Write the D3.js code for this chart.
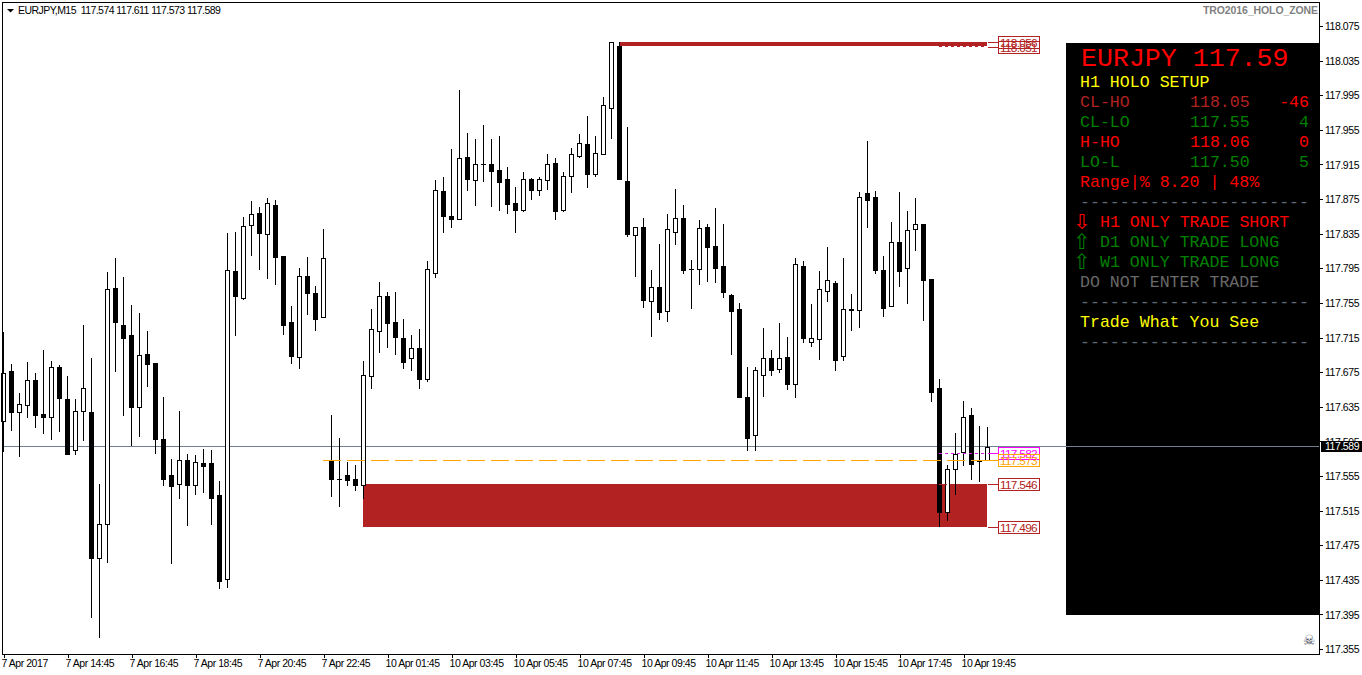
<!DOCTYPE html>
<html><head><meta charset="utf-8">
<script src="https://cdn.jsdelivr.net/npm/d3@7/dist/d3.min.js"></script>
<style>
html,body{margin:0;padding:0;background:#fff;overflow:hidden}
svg{display:block}
.ax{font-family:"Liberation Sans";font-size:10.5px;letter-spacing:-0.45px;fill:#000}
.mono{font-family:"Liberation Mono";font-size:16.6px}
</style></head><body>
<svg id="c" width="1362" height="675"></svg>
<script>
const opens=[117.619,117.676,117.629,117.637,117.666,117.627,117.623,117.681,117.644,117.585,
117.630,117.629,117.460,117.500,117.772,117.730,117.718,117.635,117.696,117.685,
117.598,117.556,117.546,117.573,117.544,117.570,117.570,117.533,117.436,117.792,
117.761,117.845,117.859,117.835,117.868,117.809,117.733,117.693,117.786,117.766,
117.739,117.572,117.552,117.556,117.551,117.544,117.670,117.723,117.763,117.733,
117.714,117.691,117.703,117.667,117.790,117.884,117.855,117.852,117.924,117.897,
117.916,117.916,117.909,117.898,117.871,117.862,117.898,117.885,117.897,117.917,
117.862,117.902,117.925,117.939,117.904,117.927,117.980,118.052,117.896,117.833,
117.843,117.757,117.773,117.746,117.837,117.853,117.794,117.794,117.843,117.821,
117.798,117.764,117.748,117.646,117.602,117.672,117.691,117.679,117.693,117.661,
117.798,117.710,117.713,117.769,117.778,117.694,117.748,117.747,117.882,117.877,
117.793,117.751,117.825,117.795,117.840,117.846,117.783,117.657,117.513,117.563,
117.583,117.625,117.572,117.574];
const highs=[117.721,117.684,117.651,117.687,117.674,117.700,117.688,117.683,117.670,117.644,
117.729,117.691,117.546,117.791,117.807,117.785,117.752,117.743,117.722,117.686,
117.646,117.575,117.630,117.580,117.579,117.586,117.585,117.549,117.836,117.837,
117.854,117.873,117.866,117.876,117.874,117.809,117.751,117.795,117.808,117.775,
117.840,117.626,117.599,117.571,117.568,117.688,117.748,117.779,117.768,117.768,
117.736,117.718,117.725,117.803,117.897,117.901,117.933,118.001,117.951,117.944,
117.961,117.944,117.948,117.912,117.889,117.906,117.899,117.901,117.927,117.922,
117.906,117.934,117.950,117.971,117.948,117.993,118.057,118.057,117.958,117.843,
117.853,117.793,117.823,117.858,117.887,117.868,117.804,117.851,117.846,117.865,
117.846,117.765,117.755,117.681,117.681,117.726,117.700,117.732,117.716,117.807,
117.803,117.754,117.792,117.820,117.780,117.807,117.765,117.883,117.942,117.884,
117.809,117.848,117.883,117.861,117.876,117.846,117.783,117.667,117.568,117.605,
117.642,117.633,117.613,117.611];
const lows=[117.584,117.608,117.578,117.623,117.612,117.605,117.598,117.607,117.580,117.580,
117.597,117.392,117.369,117.456,117.676,117.625,117.591,117.601,117.659,117.582,
117.544,117.454,117.530,117.498,117.534,117.537,117.499,117.425,117.427,117.718,
117.760,117.810,117.794,117.784,117.777,117.719,117.685,117.680,117.742,117.724,
117.739,117.532,117.520,117.544,117.539,117.530,117.657,117.698,117.704,117.696,
117.680,117.677,117.657,117.665,117.785,117.837,117.843,117.852,117.885,117.868,
117.896,117.867,117.862,117.859,117.837,117.861,117.875,117.880,117.887,117.852,
117.861,117.883,117.924,117.889,117.902,117.927,117.946,117.898,117.832,117.786,
117.750,117.717,117.736,117.734,117.823,117.790,117.749,117.777,117.780,117.779,
117.762,117.696,117.646,117.585,117.585,117.647,117.672,117.675,117.655,117.646,
117.710,117.705,117.690,117.757,117.677,117.689,117.724,117.727,117.843,117.790,
117.740,117.751,117.775,117.755,117.816,117.735,117.642,117.496,117.504,117.534,
117.568,117.551,117.549,117.573];
const closes=[117.674,117.629,117.638,117.666,117.626,117.623,117.681,117.645,117.580,117.630,
117.657,117.460,117.499,117.771,117.733,117.714,117.635,117.695,117.684,117.598,
117.552,117.543,117.573,117.544,117.571,117.566,117.530,117.434,117.793,117.763,
117.844,117.858,117.836,117.871,117.808,117.730,117.694,117.786,117.766,117.736,
117.807,117.551,117.551,117.550,117.544,117.672,117.725,117.763,117.732,117.716,
117.687,117.703,117.667,117.794,117.885,117.855,117.852,117.922,117.898,117.915,
117.916,117.907,117.895,117.869,117.862,117.898,117.885,117.898,117.916,117.861,
117.902,117.927,117.940,117.904,117.928,117.984,118.057,117.898,117.835,117.843,
117.758,117.773,117.745,117.840,117.853,117.793,117.794,117.842,117.820,117.795,
117.768,117.746,117.646,117.599,117.677,117.691,117.677,117.691,117.661,117.800,
117.714,117.714,117.771,117.781,117.689,117.748,117.747,117.877,117.874,117.793,
117.749,117.825,117.792,117.839,117.846,117.781,117.652,117.513,117.563,117.580,
117.623,117.569,117.572,117.589];

const timeLabels=["7 Apr 2017","7 Apr 14:45","7 Apr 16:45","7 Apr 18:45","7 Apr 20:45","7 Apr 22:45",
"10 Apr 01:45","10 Apr 03:45","10 Apr 05:45","10 Apr 07:45","10 Apr 09:45","10 Apr 11:45","10 Apr 13:45",
"10 Apr 15:45","10 Apr 17:45","10 Apr 19:45"];
const priceTicks=[118.075,118.035,117.995,117.955,117.915,117.875,117.835,117.795,117.755,117.715,
117.675,117.635,117.595,117.555,117.515,117.475,117.435,117.395,117.355];
const lastPrice=117.589;
const headerText="EURJPY,M15  117.574 117.611 117.573 117.589";
const indicatorName="TRO2016_HOLO_ZONE";

// zones: [first bar index, last bar index, top price, bottom price]
const upperZone=[77,123,118.056,118.051];
const lowerZone=[45,123,117.546,117.496];
const markers=[
 {price:118.056,label:"118.056",color:"#b22222"},
 {price:118.051,label:"118.051",color:"#b22222"},
 {price:117.546,label:"117.546",color:"#b22222"},
 {price:117.496,label:"117.496",color:"#b22222"},
 {price:117.582,label:"117.582",color:"#ff00ff"},
 {price:117.573,label:"117.573",color:"#ffa500"}
];
const panelTitle="EURJPY 117.59";
const panelRows=[
 {t:"H1 HOLO SETUP",c:"#ffff00"},
 {t:"CL-HO",v:"118.05",n:"-46",c:"#b22222",nc:"#ff0000"},
 {t:"CL-LO",v:"117.55",n:"4",c:"#008000"},
 {t:"H-HO",v:"118.06",n:"0",c:"#ff0000"},
 {t:"LO-L",v:"117.50",n:"5",c:"#008000"},
 {t:"Range|% 8.20 | 48%",c:"#ff0000"},
 {t:"-----------------------",c:"#5f6b78"},
 {t:"H1 ONLY TRADE SHORT",c:"#ff0000",a:"\u21e9"},
 {t:"D1 ONLY TRADE LONG",c:"#008000",a:"\u21e7"},
 {t:"W1 ONLY TRADE LONG",c:"#008000",a:"\u21e7"},
 {t:"DO NOT ENTER TRADE",c:"#696969"},
 {t:"-----------------------",c:"#5f6b78"},
 {t:"Trade What You See",c:"#ffff00"},
 {t:"-----------------------",c:"#5f6b78"}
];

const svg=d3.select("#c");
const x=d3.scaleLinear().domain([0,123]).range([3,987]);
const y=d3.scaleLinear().domain([118.075,117.355]).range([26,649]);
const Y=p=>Math.round(y(p));
const frame={l:2,t:2,r:1319,b:654};
svg.append("rect").attr("width",1362).attr("height",675).attr("fill","#fff");

// panel
const PX=1066;
svg.append("rect").attr("x",PX).attr("y",43).attr("width",frame.r-PX).attr("height",572).attr("fill","#000");
const gp=svg.append("g");
gp.append("text").attr("x",1081).attr("y",66).attr("fill","#ff0000")
 .style("font-family","Liberation Mono").style("font-size","26.6px").text(panelTitle);
panelRows.forEach((r,i)=>{
 const yy=87+i*20;
 gp.append("text").attr("class","mono").attr("x",r.a?1100:1080).attr("y",yy).attr("fill",r.c).text(r.t);
 if(r.a) gp.append("text").attr("x",1082).attr("y",yy+2).attr("text-anchor","middle").attr("fill",r.c)
   .style("font-family","DejaVu Sans").style("font-size","21px").text(r.a);
 if(r.v) gp.append("text").attr("class","mono").attr("x",1190).attr("y",yy).attr("fill",r.c).text(r.v);
 if(r.n) gp.append("text").attr("class","mono").attr("x",1309).attr("y",yy).attr("text-anchor","end").attr("fill",r.nc||r.c).text(r.n);
});

// price line
const lastY=Math.floor(y(lastPrice));
svg.append("line").attr("x1",frame.l).attr("x2",frame.r).attr("y1",lastY+.5).attr("y2",lastY+.5)
 .attr("stroke","#708090").attr("shape-rendering","crispEdges");

// zones (behind the candles)
svg.append("rect").attr("x",x(upperZone[0])+1).attr("y",Y(upperZone[2])).attr("width",x(upperZone[1])-x(upperZone[0])-1)
  .attr("height",Y(upperZone[3])-Y(upperZone[2])-1).attr("fill","#b22222").attr("shape-rendering","crispEdges");
svg.append("rect").attr("x",x(lowerZone[0])).attr("y",Y(lowerZone[2])).attr("width",x(lowerZone[1])-x(lowerZone[0]))
  .attr("height",Y(lowerZone[3])-Y(lowerZone[2])).attr("fill","#b22222").attr("shape-rendering","crispEdges");

// candles
const idx=d3.range(opens.length);
const g=svg.append("g").attr("shape-rendering","crispEdges");
g.selectAll("line.w").data(idx).join("line").attr("class","w")
 .attr("x1",i=>x(i)+.5).attr("x2",i=>x(i)+.5)
 .attr("y1",i=>Y(highs[i])).attr("y2",i=>Y(lows[i])+1).attr("stroke","#000");
g.selectAll("rect.b").data(idx).join("rect").attr("class","b")
 .each(function(i){
  const top=Y(Math.max(opens[i],closes[i])),bot=Y(Math.min(opens[i],closes[i]));
  const up=closes[i]>opens[i];
  const s=d3.select(this);
  if(up&&bot-top>=2){
   s.attr("x",x(i)-1.5).attr("y",top+.5).attr("width",4).attr("height",bot-top).attr("fill","#fff").attr("stroke","#000");
  }else{
   s.attr("x",x(i)-2).attr("y",top).attr("width",5).attr("height",Math.max(1,bot-top+1)).attr("fill","#000");
  }
 });

// dotted level marks over the last bars
const dotted=(py,c,a,b)=>svg.append("line").attr("x1",x(a)).attr("x2",x(b)).attr("y1",py+.5).attr("y2",py+.5)
  .attr("stroke",c).attr("stroke-dasharray","3 3").attr("shape-rendering","crispEdges");
dotted(Y(118.051)-1,"#b22222",117,123);
dotted(Y(117.546),"#b22222",117,118);
dotted(Y(117.496),"#fff",117,123);
dotted(Y(117.582),"#e020e0",117,123);

// orange dashed line
svg.append("line").attr("x1",x(40)).attr("x2",998).attr("y1",Y(117.573)+.5).attr("y2",Y(117.573)+.5)
 .attr("stroke","#ffa500").attr("stroke-dasharray","18 6").attr("shape-rendering","crispEdges");

// price-tag labels on the right of the zone
const boxX=998,boxW=41,boxH=11;
markers.forEach(m=>{
 const yy=Y(m.price);
 svg.append("line").attr("x1",x(123)+1).attr("x2",boxX).attr("y1",yy+.5).attr("y2",yy+.5).attr("stroke",m.color).attr("shape-rendering","crispEdges");
 svg.append("rect").attr("x",boxX+.5).attr("y",yy-5.5).attr("width",boxW).attr("height",boxH+1)
  .attr("fill","none").attr("stroke",m.color).attr("shape-rendering","crispEdges");
 svg.append("text").attr("class","ax").attr("x",boxX+2).attr("y",yy+4.5).style("fill",m.color)
  .style("font-size","11.8px").style("letter-spacing","-0.7px").text(m.label);
});

// frame
svg.append("rect").attr("x",frame.l+.5).attr("y",frame.t+.5).attr("width",frame.r-frame.l).attr("height",frame.b-frame.t)
 .attr("fill","none").attr("stroke","#000").attr("shape-rendering","crispEdges");

// right axis
const ya=d3.axisRight(y).tickValues(priceTicks).tickFormat(d3.format(".3f")).tickSize(3).tickPadding(2);
const ga=svg.append("g").attr("transform",`translate(${frame.r+.5},0)`).call(ya);
ga.select(".domain").remove();
ga.selectAll("line").attr("stroke","#000").attr("shape-rendering","crispEdges");
ga.selectAll("text").attr("class","ax").attr("x",5.5).attr("dy","0.35em");
ga.attr("font-family",null).attr("font-size",null);

// last price tag
svg.append("rect").attr("x",1321).attr("y",lastY-5).attr("width",41).attr("height",11).attr("fill","#000");
svg.append("text").attr("class","ax").attr("x",1325).attr("y",lastY+4).style("fill","#fff").text(lastPrice.toFixed(3));

// bottom axis
const xa=d3.axisBottom(x).tickValues(timeLabels.map((_,i)=>i*8)).tickFormat(d=>timeLabels[d/8]).tickSize(3).tickPadding(2);
const gx=svg.append("g").attr("transform",`translate(0.5,${frame.b+.5})`).call(xa);
gx.select(".domain").remove();
gx.selectAll("line").attr("stroke","#000").attr("shape-rendering","crispEdges");
gx.selectAll("text").attr("class","ax").attr("text-anchor","start").attr("x",-2.5).attr("y",5).attr("dy","0.71em");
gx.attr("font-family",null).attr("font-size",null);

// header
svg.append("path").attr("d",d3.line()([[7,9],[14,9],[10.5,12.5]])+"Z").attr("fill","#000");
svg.append("text").attr("class","ax").attr("x",18).attr("y",14).text(headerText).style("white-space","pre").style("letter-spacing","-0.55px");
svg.append("text").attr("class","ax").attr("x",1318).attr("y",14).attr("text-anchor","end").style("fill","#808080").style("font-weight","bold").style("letter-spacing","-0.1px").text(indicatorName);
svg.append("text").attr("x",1309).attr("y",645).attr("text-anchor","middle").attr("fill","#404858")
 .style("font-family","DejaVu Sans").style("font-size","14px").text("\u2620");
</script>
</body></html>
